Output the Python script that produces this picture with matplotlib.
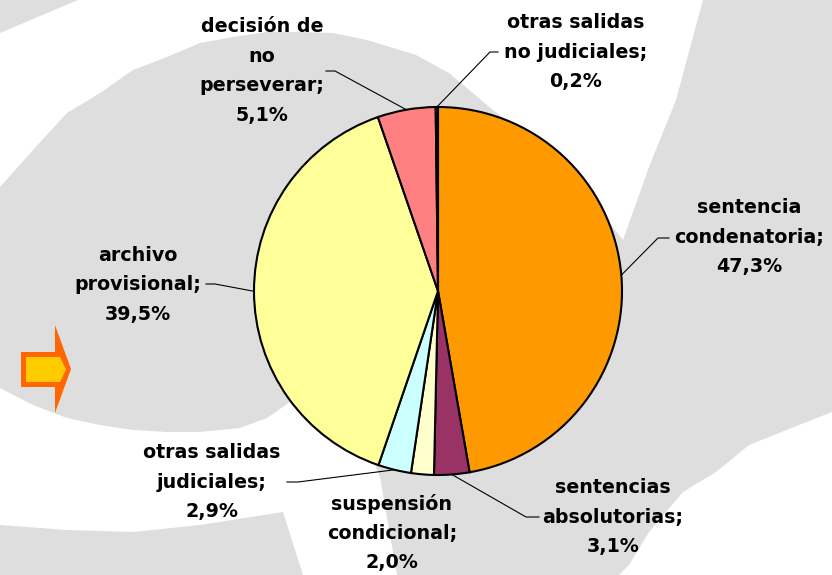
import numpy as np
import matplotlib
matplotlib.use("Agg")
import matplotlib.pyplot as plt
from matplotlib.patches import Polygon

# ---------------- data ----------------
categories = ["sentencia\ncondenatoria;", "sentencias\nabsolutorias;",
              "suspensión\ncondicional;", "otras salidas\njudiciales;",
              "archivo\nprovisional;", "decisión de\nno\nperseverar;",
              "otras salidas\nno judiciales;"]
values = [47.3, 3.1, 2.0, 2.9, 39.5, 5.1, 0.2]
pct_labels = ["47,3%", "3,1%", "2,0%", "2,9%", "39,5%", "5,1%", "0,2%"]
colors = ["#FF9900", "#993366", "#FFFFCC", "#CCFFFF", "#FFFF99", "#FF8080", "#0066CC"]

W, H = 832, 575
fig = plt.figure(figsize=(W / 100, H / 100), dpi=100)
ax = fig.add_axes([0, 0, 1, 1])

def fy(pts):
    return [(x, H - y) for x, y in pts]

BG = "#DEDEDE"
ax.add_patch(Polygon(fy([(0, 0), (W, 0), (W, H), (0, H)]), closed=True, fc=BG, ec="none", zorder=0))
white_top = [(0, 33), (78, 0), (703, 0), (676, 100), (649, 167), (623, 240), (560, 160),
             (493, 110), (449, 73), (416, 55), (367, 40), (333, 33), (300, 32), (267, 32),
             (233, 37), (200, 43), (167, 57), (133, 70), (100, 93), (67, 113), (33, 150), (0, 187)]
white_low = [(0, 388), (33, 405), (67, 418), (100, 425), (133, 430), (167, 432), (200, 432),
             (240, 428), (267, 418), (290, 402), (330, 420), (375, 465), (380, 477), (397, 575),
             (303, 575), (283, 512), (200, 525), (133, 532), (67, 530), (0, 525)]
white_br = [(832, 412), (799, 425), (749, 445), (716, 472), (683, 492), (649, 532),
            (629, 565), (619, 575), (832, 575)]
for poly in (white_top, white_low, white_br):
    ax.add_patch(Polygon(fy(poly), closed=True, fc="white", ec="none", zorder=0.5))

# arrow
outer = [(21, 352), (55, 352), (55, 325), (71, 369), (55, 413), (55, 387), (21, 387)]
inner = [(26, 357), (60, 357), (66, 369.5), (60, 382), (26, 382)]
ax.add_patch(Polygon(fy(outer), closed=True, fc="#FF6600", ec="none", zorder=1))
ax.add_patch(Polygon(fy(inner), closed=True, fc="#FFCC00", ec="none", zorder=1.1))

# pie
cx, cy, R = 438, H - 291, 184
wedges, _ = ax.pie(values, colors=colors, startangle=90, counterclock=False,
                   center=(cx, cy), radius=R,
                   wedgeprops=dict(edgecolor="black", linewidth=1.5))

# labels: text centre (px), elbow (px) and short horizontal end (px) ; None = no leader
label_layout = [
    ((749, 237), (658, 238), (669, 238)),
    ((613, 517), (526, 517), (539, 517)),
    ((392, 533), None, None),
    ((212, 482), (298, 482), (287, 482)),
    ((138, 285), (215, 284), (206, 284)),
    ((262, 71), (335, 71), (326, 71)),
    ((576, 52), (490, 52), (498, 52)),
]
cum = 0
total = sum(values)
for i, (cat, pl) in enumerate(zip(categories, pct_labels)):
    mid = 90 - (cum + values[i] / 2) / total * 360
    cum += values[i]
    (tx, ty), elbow, hend = label_layout[i]
    ax.text(tx, H - ty, cat + "\n" + pl, ha="center", va="center", fontsize=13.7,
            fontweight="bold", family="DejaVu Sans", linespacing=1.69, color="black", zorder=5)
    if elbow is not None:
        ex = cx + R * np.cos(np.radians(mid))
        ey = cy + R * np.sin(np.radians(mid))
        ax.plot([ex, elbow[0], hend[0]], [ey, H - elbow[1], H - hend[1]],
                color="black", lw=0.8, zorder=4)

ax.set_xlim(0, W)
ax.set_ylim(0, H)
ax.set_aspect("equal")
ax.axis("off")
fig.savefig("out.png", dpi=100)
